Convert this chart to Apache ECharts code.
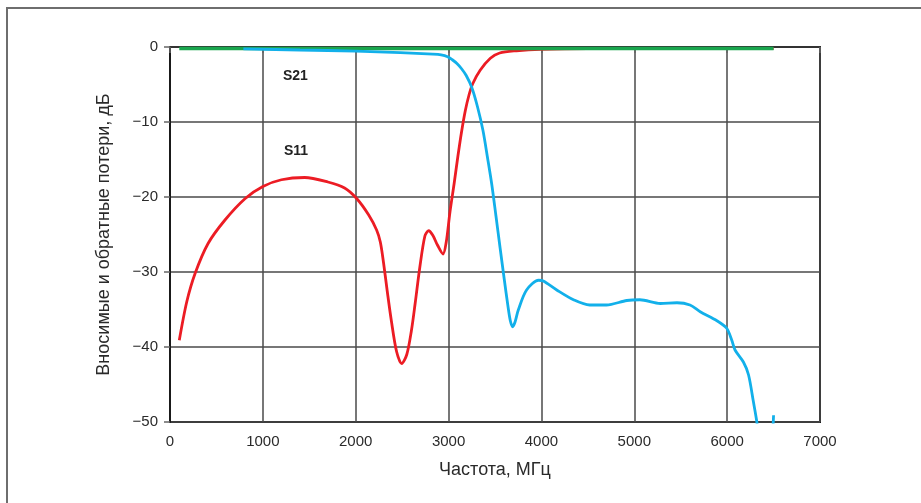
<!DOCTYPE html>
<html>
<head>
<meta charset="utf-8">
<script src="https://cdn.jsdelivr.net/npm/echarts@6/dist/echarts.min.js"></script>
<style>
html,body{margin:0;padding:0;background:#fff;}
#c{width:921px;height:503px;}
</style>
</head>
<body>
<div id="c"></div>
<script>
// S11 (red)
var s11Freq = [100,180,270,410,590,810,1000,1200,1450,1700,1880,2010,2140,2225,2265,2300,2340,2385,2440,2495,2550,2600,2640,2690,2745,2785,2830,2880,2940,2975,3015,3060,3100,3140,3180,3220,3260,3340,3450,3550,3730,3990,4500,6500];
var s11Val  = [-39.1,-34.0,-30.2,-26.2,-23.1,-20.2,-18.6,-17.7,-17.4,-18.0,-18.8,-20.2,-22.4,-24.4,-26.0,-28.8,-32.6,-36.6,-40.6,-42.2,-41.0,-37.8,-34.2,-29.4,-25.2,-24.5,-25.1,-26.4,-27.6,-26.0,-22.0,-18.2,-14.6,-11.3,-8.5,-6.4,-4.9,-3.1,-1.5,-0.8,-0.5,-0.3,-0.2,-0.2];
// S21 (blue)
var s21Freq = [790,1400,2000,2480,2830,2920,2990,3040,3090,3140,3190,3250,3310,3370,3420,3465,3510,3555,3600,3640,3665,3690,3715,3750,3840,3970,4020,4165,4345,4520,4700,4920,5060,5280,5460,5600,5710,5890,5995,6050,6085,6175,6230,6280,6320,6360,6450,6500];
var s21Val  = [-0.25,-0.4,-0.55,-0.75,-0.95,-1.05,-1.3,-1.7,-2.2,-2.9,-3.8,-5.4,-7.9,-11.1,-14.8,-18.3,-22.5,-26.8,-31.0,-34.6,-36.5,-37.3,-36.7,-35.1,-32.4,-31.1,-31.2,-32.4,-33.7,-34.4,-34.4,-33.8,-33.7,-34.2,-34.1,-34.4,-35.3,-36.5,-37.5,-39.1,-40.4,-42.0,-43.7,-47.1,-50.0,-54,-54,-49.1];
// reference level (green)
var refFreq = [100,6500];
var refVal  = [-0.2,-0.2];
var xTicks = [0,1000,2000,3000,4000,5000,6000,7000];
var yTicks = [-50,-40,-30,-20,-10,0];
var xName = 'Частота, МГц';
var yName = 'Вносимые и обратные потери, дБ';
var labelS21 = 'S21';
var labelS11 = 'S11';

function pairs(f, v){ return f.map(function(x,i){ return [x, v[i]]; }); }

var chart = echarts.init(document.getElementById('c'), null, {renderer:'canvas'});
var FONT = '"Liberation Sans", Arial, sans-serif';
chart.setOption({
  animation:false,
  backgroundColor:'#fff',
  graphic:[
    {type:'rect', shape:{x:7,y:8,width:1000,height:1000}, style:{fill:'none', stroke:'#6e6e6e', lineWidth:2}, silent:true},
    {type:'text', x:283, y:69, style:{text:labelS21, font:'bold 14px '+FONT, fill:'#222'}},
    {type:'text', x:284, y:144, style:{text:labelS11, font:'bold 14px '+FONT, fill:'#222'}}
  ],
  grid:{left:170, right:101, top:47, bottom:81, show:true, borderColor:'#1a1a1a', borderWidth:2, backgroundColor:'transparent'},
  xAxis:{
    type:'value', min:xTicks[0], max:xTicks[xTicks.length-1], interval:1000,
    name:xName, nameLocation:'middle', nameGap:39,
    nameTextStyle:{fontFamily:FONT, fontSize:18, color:'#2a2a2a'},
    axisLine:{show:true, lineStyle:{color:'#333', width:2}},
    axisTick:{show:true, length:6, lineStyle:{color:'#666', width:1.5}},
    axisLabel:{fontFamily:FONT, fontSize:15, color:'#2a2a2a', margin:12,
      formatter:function(v){ return String(v); }},
    splitLine:{show:true, lineStyle:{color:'#4a4a4a', width:1.5}}
  },
  yAxis:{
    type:'value', min:yTicks[0], max:yTicks[yTicks.length-1], interval:10,
    name:yName, nameLocation:'middle', nameGap:57, nameRotate:90,
    nameTextStyle:{fontFamily:FONT, fontSize:18, color:'#2a2a2a'},
    axisLine:{show:true, lineStyle:{color:'#1a1a1a', width:2}},
    axisTick:{show:true, length:6, lineStyle:{color:'#666', width:1.5}},
    axisLabel:{fontFamily:FONT, fontSize:15, color:'#2a2a2a', margin:12,
      formatter:function(v){ return String(v).replace('-', '\u2212'); }},
    splitLine:{show:true, lineStyle:{color:'#4a4a4a', width:1.5}}
  },
  series:[
    {type:'line', name:'S11', data:pairs(s11Freq, s11Val), showSymbol:false, smooth:0.3, clip:true,
      lineStyle:{color:'#ec1c24', width:2.8}, z:3},
    {type:'line', name:'ref', data:pairs(refFreq, refVal), showSymbol:false, clip:true,
      lineStyle:{color:'#1aa64e', width:3.5}, z:4},
    {type:'line', name:'S21', data:pairs(s21Freq, s21Val), showSymbol:false, smooth:0.3, clip:true,
      lineStyle:{color:'#12b0ea', width:2.8}, z:5}
  ]
});
</script>
</body>
</html>
